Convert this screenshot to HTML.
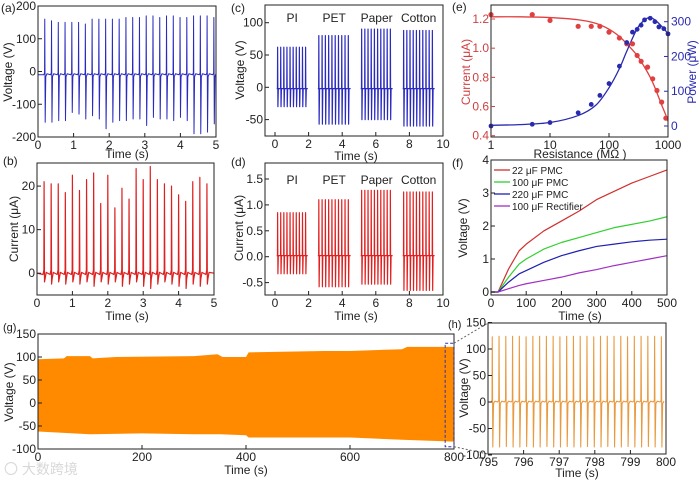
<!DOCTYPE html>
<html><head><meta charset="utf-8"><style>
html,body{margin:0;padding:0;background:#fff;}
svg{display:block;font-family:"Liberation Sans",Arial,sans-serif;}
text{font-size:12px;fill:#222;}
</style></head><body>
<svg id="fig" width="700" height="480" viewBox="0 0 700 480" xmlns="http://www.w3.org/2000/svg">
<rect x="0" y="0" width="700" height="480" fill="#fff"/>
<text x="4" y="474" style="font-size:14px;fill:#d8d8d8">〇 大数跨境</text>
</svg>
<script>
// ---------- data ----------
const aPeaks=[160,155,150,150,150,150,145,160,160,160,160,160,165,165,165,170,170,165,170,170,165,165,170,170,170,165];
const aTroughs=[-155,-155,-150,-150,-125,-130,-145,-135,-145,-175,-155,-150,-150,-145,-145,-165,-140,-145,-145,-150,-140,-150,-190,-190,-185,-160];
const bPeaks=[21,20.5,20.5,18.5,22.5,19,21.5,23,16,22.5,15,19.5,17,24,21.5,24.5,21.5,20.5,20,18,16.5,21,22,20.5];
const bTroughs=[-2,-2.5,-2,-2.5,-2,-2.5,-2,-3,-2,-2.5,-2,-3,-2.5,-2,-3,-3.5,-2.5,-2,-2.5,-3,-3.5,-2.5,-3,-2.5];
const groupNames=["PI","PET","Paper","Cotton"];
const groupStart=[0.1,2.55,5.1,7.6];
const groupEnd=[1.95,4.5,7.0,9.5];
const cPeaks=[62,80,90,88];
const cTroughs=[-30,-57,-50,-60];
const dPeaks=[0.85,1.1,1.28,1.25];
const dTroughs=[-0.33,-0.58,-0.53,-0.65];
const eRes=[1,5,10,30,50,70,100,150,200,250,300,350,450,550,650,780,920];
const eCurrent=[1.23,1.23,1.19,1.15,1.15,1.15,1.11,1.07,1.03,1.03,0.95,0.91,0.87,0.79,0.71,0.63,0.52];
const ePowerRes=[1,5,10,30,50,70,100,150,200,250,300,350,400,500,600,700,850,1000];
const ePower=[0,5,10,38,62,88,122,172,240,270,278,290,305,310,300,285,280,265];
const eFitRes=[1,3,10,30,60,100,150,200,300,400,500,600,700,800,900,1000];
const eFitCurrent=[1.215,1.215,1.21,1.195,1.17,1.13,1.08,1.03,0.95,0.87,0.8,0.73,0.66,0.6,0.55,0.5];
const eFitPower=[2,4,10,30,60,110,165,215,280,305,312,305,295,285,275,265];
const fTime=[0,20,50,80,100,150,200,250,300,350,400,450,500];
const fRed=[0,0,0.7,1.25,1.45,1.85,2.15,2.45,2.8,3.05,3.3,3.5,3.7];
const fGreen=[0,0,0.45,0.85,1.0,1.3,1.5,1.65,1.8,1.95,2.05,2.15,2.28];
const fBlue=[0,0,0.3,0.55,0.65,0.9,1.1,1.25,1.38,1.45,1.52,1.57,1.6];
const fPurple=[0,0,0.1,0.2,0.25,0.35,0.45,0.58,0.68,0.8,0.9,1.0,1.1];
const fLabels=[" 22 μF PMC","100 μF PMC","220 μF PMC","100 μF Rectifier"];
const gUpT=[0,50,55,100,105,150,300,345,355,400,405,550,600,700,710,800];
const gUp=[95,97,102,102,97,100,102,106,100,100,110,113,113,117,122,122];
const gLoT=[0,100,200,300,350,400,405,600,700,800];
const gLo=[-62,-68,-66,-68,-68,-70,-75,-75,-80,-84];
const hPeaks=[123,124,124,124,124,123,124,124,124,124,123,124,124,124,124,123,124,124,124,124,123,124,124,124,124,123];
const hTroughs=[-85,-85,-84,-85,-85,-84,-85,-85,-84,-85,-85,-84,-85,-85,-84,-85,-85,-84,-85,-85,-84,-85,-85,-84,-85,-85];

// ---------- helpers ----------
const NS="http://www.w3.org/2000/svg";
const svg=document.getElementById('fig');
function mk(tag,attrs,name,parent){
  const el=document.createElementNS(NS,tag);
  for(const k in attrs) el.setAttribute(k,attrs[k]);
  
  
  (parent||svg).appendChild(el);
  return el;
}
function txt(x,y,s,name,opt){
  opt=opt||{};
  const el=mk('text',{x:x,y:y,'text-anchor':opt.anchor||'middle'},name);
  if(opt.rot) el.setAttribute('transform','rotate(-90 '+x+' '+y+')');
  if(opt.fill) el.setAttribute('style','fill:'+opt.fill+(opt.size?';font-size:'+opt.size+'px':''));
  else if(opt.size) el.setAttribute('style','font-size:'+opt.size+'px');
  el.textContent=s; return el;
}
function lin(d0,d1,r0,r1){return v=>r0+(v-d0)*(r1-r0)/(d1-d0);}
function logs(d0,d1,r0,r1){return v=>r0+(Math.log10(v)-Math.log10(d0))*(r1-r0)/(Math.log10(d1)-Math.log10(d0));}
function box(b,name){mk('rect',{x:b.x0,y:b.y0,width:b.x1-b.x0,height:b.y1-b.y0,fill:'none',stroke:'#222','stroke-width':1},name);}
function xticks(b,sx,vals,labs,name){
  vals.forEach((v,i)=>{const x=sx(v);
    mk('line',{x1:x,x2:x,y1:b.y1,y2:b.y1-4,stroke:'#222'},name+'-tick');
    txt(x,b.y1+12,labs[i],name+'-label');});
}
function yticks(b,sy,vals,labs,name,side,color){
  vals.forEach((v,i)=>{const y=sy(v);
    const x=side==='r'?b.x1:b.x0;const d=side==='r'?-4:4;
    mk('line',{x1:x,x2:x+d,y1:y,y2:y,stroke:color||'#222'},name+'-tick');
    txt(side==='r'?x+3:x-2,y+4,labs[i],name+'-label',{anchor:side==='r'?'start':'end',fill:color});});
}
function poly(pts,color,name,w){
  mk('polyline',{points:pts.map(p=>p[0].toFixed(2)+','+p[1].toFixed(2)).join(' '),fill:'none',stroke:color,'stroke-width':w||1,'stroke-linejoin':'round'},name);
}
function smooth(pts,color,name,w){
  let d='M'+pts[0][0].toFixed(2)+','+pts[0][1].toFixed(2);
  for(let i=0;i<pts.length-1;i++){
    const p0=pts[i-1]||pts[i],p1=pts[i],p2=pts[i+1],p3=pts[i+2]||p2;
    const c1=[p1[0]+(p2[0]-p0[0])/6,p1[1]+(p2[1]-p0[1])/6];
    const c2=[p2[0]-(p3[0]-p1[0])/6,p2[1]-(p3[1]-p1[1])/6];
    d+=' C'+c1[0].toFixed(2)+','+c1[1].toFixed(2)+' '+c2[0].toFixed(2)+','+c2[1].toFixed(2)+' '+p2[0].toFixed(2)+','+p2[1].toFixed(2);
  }
  mk('path',{d:d,fill:'none',stroke:color,'stroke-width':w||1},name);
}
function spikes(times,peaks,troughs,base,w,sx,sy,wig){
  const pts=[];
  times.forEach((t,i)=>{
    pts.push([sx(t-w*1.5),sy(base)]);pts.push([sx(t-w*0.3),sy(base+wig)]);
    pts.push([sx(t),sy(peaks[i])]);pts.push([sx(t+w*0.6),sy(troughs[i])]);
    pts.push([sx(t+w*1.4),sy(base-wig)]);pts.push([sx(t+w*3),sy(base+wig*0.5)]);
  });
  return pts;
}

// ---------- (a) ----------
(function(){
  const b={x0:38,x1:216,y0:6,y1:137};
  const sx=lin(0,5,b.x0,b.x1), sy=lin(-200,200,b.y1,b.y0);
  const times=aPeaks.map((_,i)=>0.19+i*0.19);
  poly([[sx(0),sy(-10)]].concat(spikes(times,aPeaks,aTroughs,-10,0.02,sx,sy,6)).concat([[sx(5),sy(-10)]]),'#2a2ac0','series-a-voltage',1);
  box(b,'plot-area-a');
  xticks(b,sx,[0,1,2,3,4,5],['0','1','2','3','4','5'],'x-axis-a');
  yticks(b,sy,[-200,-100,0,100,200],['-200','-100','0','100','200'],'y-axis-a');
  txt(127,158,'Time (s)','x-axis-title-a');
  txt(12,72,'Voltage (V)','y-axis-title-a',{rot:1});
  txt(1,12,'(a)','panel-label-a',{anchor:'start'});
})();
// ---------- (b) ----------
(function(){
  const b={x0:37,x1:214,y0:163,y1:295};
  const sx=lin(0,5,b.x0,b.x1), sy=lin(-5,25.3,b.y1,b.y0);
  const times=bPeaks.map((_,i)=>0.2+i*0.2);
  poly([[sx(0),sy(0)]].concat(spikes(times,bPeaks,bTroughs,-0.3,0.02,sx,sy,1)).concat([[sx(5),sy(0)]]),'#dd2020','series-b-current',1.2);
  box(b,'plot-area-b');
  xticks(b,sx,[0,1,2,3,4,5],['0','1','2','3','4','5'],'x-axis-b');
  yticks(b,sy,[0,10,20],['0','10','20'],'y-axis-b');
  txt(127,320,'Time (s)','x-axis-title-b');
  txt(18,229,'Current (μA)','y-axis-title-b',{rot:1});
  txt(3,165,'(b)','panel-label-b',{anchor:'start'});
})();
// ---------- (c),(d) ----------
function groupPanel(b,sx,sy,peaks,troughs,base,color,name){
  groupNames.forEach((g,gi)=>{
    const n=10,times=[];for(let i=0;i<n;i++)times.push(groupStart[gi]+(groupEnd[gi]-groupStart[gi])*(i+0.3)/n);
    const pk=times.map(()=>peaks[gi]), tr=times.map(()=>troughs[gi]);
    poly([[sx(groupStart[gi]),sy(base)]].concat(spikes(times,pk,tr,base,0.03,sx,sy,0)).concat([[sx(groupEnd[gi]),sy(base)]]),color,name+'-'+g.toLowerCase(),1.2);
  });
}
(function(){
  const b={x0:265,x1:443,y0:5,y1:136};
  const sx=lin(0,10,275,443), sy=lin(0,100,87.3,22.7);
  groupPanel(b,sx,sy,cPeaks,cTroughs,-2,'#2a2ac0','series-c-voltage');
  box(b,'plot-area-c');
  xticks(b,sx,[0,2,4,6,8,10],['0','2','4','6','8','10'],'x-axis-c');
  yticks(b,sy,[-50,0,50,100],['-50','0','50','100'],'y-axis-c');
  groupNames.forEach((g,i)=>txt(sx((groupStart[i]+groupEnd[i])/2),22,g,'group-label-c'));
  txt(356,160,'Time (s)','x-axis-title-c');
  txt(244,70,'Voltage (V)','y-axis-title-c',{rot:1});
  txt(231,12,'(c)','panel-label-c',{anchor:'start'});
})();
(function(){
  const b={x0:265,x1:443,y0:163,y1:295};
  const sx=lin(0,10,275,443), sy=lin(0,1.5,256.7,179);
  groupPanel(b,sx,sy,dPeaks,dTroughs,0.02,'#e02020','series-d-current');
  box(b,'plot-area-d');
  xticks(b,sx,[0,2,4,6,8,10],['0','2','4','6','8','10'],'x-axis-d');
  yticks(b,sy,[-0.5,0,0.5,1,1.5],['-0.5','0.0','0.5','1.0','1.5'],'y-axis-d');
  groupNames.forEach((g,i)=>txt(sx((groupStart[i]+groupEnd[i])/2),184,g,'group-label-d'));
  txt(356,320,'Time (s)','x-axis-title-d');
  txt(243,228,'Current (μA)','y-axis-title-d',{rot:1});
  txt(231,166,'(d)','panel-label-d',{anchor:'start'});
})();
// ---------- (e) ----------
(function(){
  const b={x0:491,x1:668,y0:5,y1:137};
  const sx=logs(1,1000,b.x0,b.x1), syL=lin(0.4,1.2,135.7,19), syR=lin(0,300,126,21.7);
  smooth(eFitRes.map((r,i)=>[sx(r),syL(eFitCurrent[i])]),'#e04040','fit-current',1.3);
  smooth(eFitRes.map((r,i)=>[sx(r),syR(eFitPower[i])]),'#2a2ab0','fit-power',1.3);
  eRes.forEach((r,i)=>mk('circle',{cx:sx(r),cy:syL(eCurrent[i]),r:2.6,fill:'#e04040'},'point-current'));
  ePowerRes.forEach((r,i)=>mk('circle',{cx:sx(r),cy:syR(ePower[i]),r:2.4,fill:'#2a2ab0'},'point-power'));
  box(b,'plot-area-e');
  xticks(b,sx,[1,10,100,1000],['1','10','100','1000'],'x-axis-e');
  yticks(b,syL,[0.4,0.6,0.8,1.0,1.2],['0.4','0.6','0.8','1.0','1.2'],'y-axis-left-e','l','#d04040');
  yticks(b,syR,[0,100,200,300],['0','100','200','300'],'y-axis-right-e','r','#2a2ab0');
  txt(580,158,'Resistance (MΩ )','x-axis-title-e');
  txt(470,72,'Current (μA)','y-axis-title-left-e',{rot:1,fill:'#d04040'});
  txt(696,72,'Power (μW)','y-axis-title-right-e',{rot:1,fill:'#2a2ab0'});
  txt(452,11,'(e)','panel-label-e',{anchor:'start'});
})();
// ---------- (f) ----------
(function(){
  const b={x0:491,x1:667,y0:160,y1:295};
  const sx=lin(0,500,b.x0,b.x1), sy=lin(0,4,292,160);
  const series=[fRed,fGreen,fBlue,fPurple], cols=['#d03030','#30d030','#2020b0','#a030c0'], nm=['22uf-pmc','100uf-pmc','220uf-pmc','100uf-rectifier'];
  series.forEach((s,k)=>poly(fTime.map((t,i)=>[sx(t),sy(s[i])]),cols[k],'line-'+nm[k],1.2));
  box(b,'plot-area-f');
  xticks(b,sx,[0,100,200,300,400,500],['0','100','200','300','400','500'],'x-axis-f');
  yticks(b,sy,[0,1,2,3,4],['0','1','2','3','4'],'y-axis-f');
  fLabels.forEach((l,k)=>{const y=174+k*12;
    mk('line',{x1:494,x2:510,y1:y-4,y2:y-4,stroke:cols[k],'stroke-width':1.3},'legend-swatch');
    txt(512,y,l,'legend-entry',{anchor:'start',size:10});});
  txt(580,320,'Time (s)','x-axis-title-f');
  txt(467,228,'Voltage (V)','y-axis-title-f',{rot:1});
  txt(452,167,'(f)','panel-label-f',{anchor:'start'});
})();
// ---------- (g) ----------
(function(){
  const b={x0:38,x1:454,y0:334,y1:449};
  const sx=lin(0,800,b.x0,b.x1), sy=lin(0,100,403,357);
  const pts=gUpT.map((t,i)=>[sx(t),sy(gUp[i])]).concat(gLoT.slice().reverse().map((t,j)=>[sx(t),sy(gLo[gLo.length-1-j])]));
  mk('polygon',{points:pts.map(p=>p[0].toFixed(1)+','+p[1].toFixed(1)).join(' '),fill:'#ff8a00'},'area-g-voltage');
  box(b,'plot-area-g');
  xticks(b,sx,[0,200,400,600,800],['0','200','400','600','800'],'x-axis-g');
  yticks(b,sy,[-100,-50,0,50,100,150],['-100','-50','0','50','100','150'],'y-axis-g');
  mk('rect',{x:sx(783),y:sy(130),width:sx(800)-sx(783),height:sy(-95)-sy(130),fill:'none',stroke:'#3333aa','stroke-dasharray':'3,2'},'zoom-box');
  mk('line',{x1:sx(800),y1:sy(130),x2:488,y2:323,stroke:'#666','stroke-dasharray':'2,2'},'zoom-connector');
  mk('line',{x1:sx(800),y1:sy(-95),x2:488,y2:454,stroke:'#666','stroke-dasharray':'2,2'},'zoom-connector');
  txt(246,474,'Time (s)','x-axis-title-g');
  txt(13,392,'Voltage (V)','y-axis-title-g',{rot:1});
  txt(3,331,'(g)','panel-label-g',{anchor:'start',size:11});
})();
// ---------- (h) ----------
(function(){
  const b={x0:488,x1:666,y0:323,y1:454};
  const sx=lin(795,800,b.x0,b.x1), sy=lin(0,100,402,349);
  const times=hPeaks.map((_,i)=>795.12+i*0.19);
  poly([[sx(795),sy(0)]].concat(spikes(times,hPeaks,hTroughs,0,0.025,sx,sy,3)),'#e89a40','series-h-voltage',1.1);
  box(b,'plot-area-h');
  xticks(b,sx,[795,796,797,798,799,800],['795','796','797','798','799','800'],'x-axis-h');
  yticks(b,sy,[-100,-50,0,50,100,150],['-100','-50','0','50','100','150'],'y-axis-h');
  txt(577,477,'Time (s)','x-axis-title-h');
  txt(468,388,'Voltage (V)','y-axis-title-h',{rot:1});
  txt(448,328,'(h)','panel-label-h',{anchor:'start',size:11});
})();
</script>
</body></html>
